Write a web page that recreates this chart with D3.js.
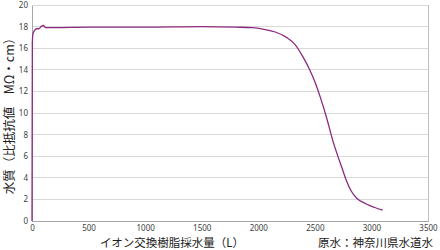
<!DOCTYPE html>
<html><head><meta charset="utf-8">
<script src="https://cdn.jsdelivr.net/npm/d3@7"></script>
<style>body{margin:0;background:#fff}svg{display:block}</style>
</head><body>
<script>
const volume = [0,3,8,20,40,60,80,100,120,200,500,1000,1500,1800,1950,2050,2150,2250,2320,2400,2450,2500,2550,2600,2660,2700,2740,2780,2820,2870,2950,3030,3100];
const resistivity = [0,16.5,17.3,17.6,17.8,17.8,18.0,18.1,17.9,17.9,17.95,17.95,18.0,17.95,17.9,17.75,17.5,17.0,16.4,15.1,14.1,12.9,11.4,9.7,7.4,6.1,4.9,3.7,2.8,2.1,1.6,1.25,1.0];
const xTicks = [0,500,1000,1500,2000,2500,3000,3500];
const yTicks = [0,2,4,6,8,10,12,14,16,18,20];
const xTitle = "イオン交換樹脂採水量（L）";
const yTitle = "水質（比抵抗値　MΩ・cm）";
const note = "原水：神奈川県水道水";

const W=440,H=250;
const svg=d3.select("body").append("svg").attr("width",W).attr("height",H);
const x=d3.scaleLinear().domain([0,3500]).range([32,428]);
const y=d3.scaleLinear().domain([0,20]).range([221,5]);
const font='"Noto Sans CJK JP","Noto Sans",sans-serif';

svg.append("g").selectAll("line").data(yTicks.filter(d=>d>0)).join("line")
  .attr("x1",x(0)).attr("x2",x(3500)).attr("y1",d=>y(d)).attr("y2",d=>y(d))
  .attr("stroke","#d9d9d9").attr("stroke-width",1).attr("shape-rendering","crispEdges");
svg.append("line").attr("x1",x(3500)).attr("x2",x(3500)).attr("y1",y(20)).attr("y2",y(0))
  .attr("stroke","#bfbfbf").attr("shape-rendering","crispEdges");

const xAxis=svg.append("g").attr("transform",`translate(0,${y(0)})`)
  .call(d3.axisBottom(x).tickValues(xTicks).tickSize(0).tickPadding(4).tickFormat(d3.format("d")));
const yAxis=svg.append("g").attr("transform",`translate(${x(0)},0)`)
  .call(d3.axisLeft(y).tickValues(yTicks).tickSize(0).tickPadding(4));
[xAxis,yAxis].forEach(g=>{
  g.select(".domain").attr("stroke","#a6a6a6").attr("shape-rendering","crispEdges");
  g.selectAll("text").attr("fill","#404040").style("font-family",'"Noto Sans",sans-serif').style("font-size","8px");
});

svg.append("path").datum(volume.map((v,i)=>[v,resistivity[i]]))
  .attr("d",d3.line().x(d=>x(d[0])).y(d=>y(d[1])).curve(d3.curveMonotoneX))
  .attr("fill","none").attr("stroke","#8b2a80").attr("stroke-width",1.3);

svg.append("text").attr("x",172).attr("y",247).attr("text-anchor","middle")
  .style("font-family",font).style("font-size","11.5px").attr("fill","#222").text(xTitle);
svg.append("text").attr("x",433).attr("y",247).attr("text-anchor","end")
  .style("font-family",font).style("font-size","11.5px").attr("fill","#222").text(note);
svg.append("text").attr("transform","translate(14,113) rotate(-90)").attr("text-anchor","middle")
  .style("font-family",font).style("font-size","12.5px").attr("fill","#222").text(yTitle);
</script>
</body></html>
